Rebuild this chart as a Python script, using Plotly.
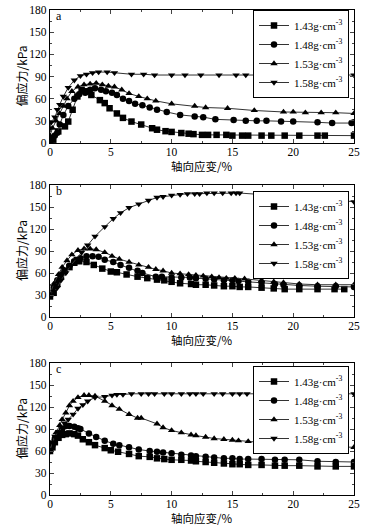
import plotly.graph_objects as go

labels = ["1.43g·cm<sup>-3</sup>", "1.48g·cm<sup>-3</sup>", "1.53g·cm<sup>-3</sup>", "1.58g·cm<sup>-3</sup>"]
symbols = ["square", "circle", "triangle-up", "triangle-down"]
x_title = "轴向应变/%"
y_title = "偏应力/kPa"
x_ticks = [0, 5, 10, 15, 20, 25]
y_ticks = [0, 30, 60, 90, 120, 150, 180]

# Panel a
a143_x = [0, 0.27, 0.68, 1.23, 1.5, 1.86, 2.25, 2.6, 2.96, 3.4, 4.1, 4.5, 4.9, 5.5, 6.0, 6.7, 7.5, 8.4, 8.8, 9.5, 10, 10.8, 11.4, 11.8, 12.5, 13, 13.7, 14.5, 15, 15.8, 16.3, 17.4, 18.2, 19.3, 20.5, 22, 22.6, 25]
a143_y = [0, 4.5, 15.7, 22.5, 29, 45, 63, 72, 70, 65, 58, 54, 47, 40, 34, 29, 25, 20, 18, 16, 15, 13.5, 12.6, 12, 11, 11, 11, 11, 10, 10, 10, 10, 10, 10, 10, 10, 10, 10]
a148_x = [0, 0.2, 0.4, 0.6, 0.8, 1.1, 1.5, 2.0, 2.4, 2.9, 3.3, 3.7, 4.2, 4.6, 5.1, 5.5, 6.0, 6.5, 7.0, 7.6, 8.2, 8.8, 9.6, 10.7, 11.9, 12.6, 13.6, 15.1, 16.1, 17.0, 17.8, 19.0, 20.0, 22.0, 23.2, 24.8, 25]
a148_y = [2, 6, 10, 14, 25, 38, 50, 60, 66, 68, 72, 74, 72, 70, 68, 65, 60, 57, 53, 51, 48, 45, 42, 38, 36, 35, 32, 31, 30, 30, 30, 29, 29, 28, 27, 27, 28]
a153_x = [0, 0.2, 0.5, 0.8, 1.1, 1.4, 1.8, 2.3, 2.8, 3.3, 3.8, 4.3, 4.8, 5.3, 5.9, 6.5, 7.3, 8.0, 8.7, 10.0, 11.9, 12.8, 14.6, 16.8, 19.2, 20.0, 21.0, 22.3, 23.5, 25]
a153_y = [10, 20, 30, 40, 50, 60, 70, 76, 79, 80, 81, 79, 77, 76, 72, 67, 63, 60, 57, 53, 50, 48, 47, 44, 42, 42, 41, 41, 41, 40]
a158_x = [0, 0.1, 0.4, 0.6, 0.8, 1.1, 1.5, 2.0, 2.5, 3.0, 3.5, 4.0, 4.7, 5.3, 6.7, 7.7, 8.6, 10.0, 11.1, 12.4, 13.9, 15.3, 16.1, 17.0, 18.0, 19.2, 20.7, 21.8, 22.5, 25]
a158_y = [20, 28, 35, 45, 52, 63, 75, 85, 91, 93, 95, 96, 96, 95, 93, 93, 92, 92, 92, 92, 92, 92, 92, 92, 92, 92, 92, 92, 92, 92]

# Panel b
b143_x = [0, 0.3, 0.6, 0.9, 1.2, 1.6, 2.0, 2.4, 3.0, 3.6, 4.3, 5.0, 5.5, 6.3, 7.2, 8.0, 8.8, 9.4, 10.0, 10.7, 11.6, 12.0, 12.8, 13.5, 14.3, 15.0, 15.6, 16.3, 17.4, 18.4, 19.3, 20.5, 22.0, 23.4, 24.2]
b143_y = [28, 33, 45, 55, 63, 68, 74, 76, 75, 71, 66, 62, 61, 58, 55, 53, 51, 50, 48, 46, 45, 44, 44, 43, 42, 42, 41, 41, 40, 39, 38, 38, 38, 38, 38]
b148_x = [0, 0.3, 0.6, 0.9, 1.2, 1.6, 2.0, 2.5, 3.0, 3.5, 4.0, 4.5, 5.2, 5.8, 6.5, 7.2, 7.6, 8.7, 9.2, 10.0, 10.8, 11.5, 12.0, 12.8, 13.5, 14.3, 15.0, 15.5, 16.3, 17.4, 18.5, 19.2, 20.5, 22.0, 23.5, 25]
b148_y = [30, 40, 50, 58, 63, 70, 76, 80, 83, 83, 82, 78, 75, 71, 67, 63, 60, 55, 55, 54, 54, 54, 53, 52, 51, 50, 50, 49, 48, 47, 45, 44, 43, 42, 42, 41]
b153_x = [0, 0.3, 0.7, 1.0, 1.4, 1.8, 2.3, 2.8, 3.3, 3.8, 4.5, 5.1, 5.7, 6.5, 7.3, 8.1, 8.7, 9.3, 10.0, 10.7, 11.4, 12.0, 12.6, 13.3, 13.9, 14.5, 15.2, 16.0, 17.4, 18.4, 19.2, 20.5, 22.0, 23.5, 25]
b153_y = [30, 45, 58, 68, 77, 85, 91, 93, 93, 92, 88, 83, 79, 75, 71, 68, 65, 63, 60, 59, 58, 57, 56, 55, 54, 53, 53, 52, 50, 48, 47, 45, 44, 44, 44]
b158_x = [0, 0.3, 0.6, 0.9, 1.3, 1.7, 2.2, 2.6, 3.1, 3.7, 4.5, 5.2, 5.8, 6.5, 7.3, 8.1, 8.8, 9.3, 10.0, 10.7, 11.3, 11.9, 12.3, 12.9, 13.5, 14.2, 14.9, 15.3, 15.6, 17.4, 20.0, 22.0, 25]
b158_y = [30, 35, 40, 50, 60, 70, 80, 88, 98, 110, 123, 134, 142, 149, 154, 159, 163, 164, 166, 167, 168, 168, 168, 169, 169, 169, 169, 169, 169, 167, 165, 163, 157]

# Panel c
c143_x = [0, 0.2, 0.4, 0.7, 1.0, 1.3, 1.6, 2.0, 2.3, 2.7, 3.2, 3.7, 4.5, 5.0, 5.6, 6.5, 7.3, 8.2, 8.8, 9.4, 10.0, 10.8, 11.6, 12.0, 12.8, 13.5, 14.3, 15.0, 15.6, 16.3, 17.4, 18.5, 19.3, 20.5, 22.0, 23.5, 25]
c143_y = [60, 65, 72, 78, 82, 83, 84, 83, 81, 76, 72, 68, 64, 61, 59, 56, 53, 52, 50, 49, 48, 48, 47, 46, 45, 44, 43, 42, 42, 41, 41, 40, 40, 40, 39, 39, 39]
c148_x = [0, 0.2, 0.4, 0.7, 1.0, 1.3, 1.6, 2.0, 2.3, 2.5, 3.2, 3.8, 4.5, 5.2, 5.7, 6.5, 7.3, 8.2, 8.8, 9.3, 10.0, 10.8, 11.6, 12.0, 12.8, 13.5, 14.3, 15.0, 15.6, 16.3, 17.4, 18.5, 19.3, 20.5, 22.0, 23.5, 25]
c148_y = [60, 68, 77, 85, 90, 94, 94, 93, 91, 90, 84, 79, 74, 70, 68, 65, 62, 60, 59, 58, 57, 55, 54, 53, 52, 51, 50, 50, 49, 49, 49, 48, 48, 48, 46, 45, 45]
c153_x = [0, 0.2, 0.5, 0.8, 1.0, 1.3, 1.6, 1.9, 2.3, 2.8, 3.2, 3.7, 4.5, 5.1, 5.7, 6.5, 7.2, 7.5, 8.8, 9.3, 10.0, 10.8, 11.6, 12.0, 12.8, 13.5, 14.3, 15.0, 15.5, 16.3, 17.4, 18.5, 19.2, 20.5, 22.0, 23.0, 25]
c153_y = [62, 72, 85, 95, 103, 112, 122, 128, 133, 136, 136, 135, 128, 122, 117, 110, 105, 105, 97, 92, 88, 85, 82, 81, 79, 77, 76, 75, 74, 73, 71, 70, 69, 68, 67, 66, 65]
c158_x = [0, 0.2, 0.4, 0.7, 1.0, 1.2, 1.5, 1.9, 2.3, 2.7, 3.1, 3.7, 4.5, 5.1, 5.5, 6.0, 6.7, 7.5, 8.1, 8.6, 9.4, 10.0, 10.8, 11.5, 12.0, 12.6, 13.5, 14.2, 15.0, 15.6, 16.2, 17.4, 25]
c158_y = [62, 72, 80, 86, 92, 98, 103, 110, 118, 123, 128, 133, 134, 136, 137, 137, 138, 138, 138, 138, 138, 138, 138, 138, 138, 138, 138, 138, 138, 138, 138, 138, 138]

panels = [
    ("a", [(a143_x, a143_y), (a148_x, a148_y), (a153_x, a153_y), (a158_x, a158_y)]),
    ("b", [(b143_x, b143_y), (b148_x, b148_y), (b153_x, b153_y), (b158_x, b158_y)]),
    ("c", [(c143_x, c143_y), (c148_x, c148_y), (c153_x, c153_y), (c158_x, c158_y)]),
]

W, H = 373, 527
x0, x1 = 50 / W, 354 / W
ydoms = [(1 - 143 / H, 1 - 10 / H), (1 - 317 / H, 1 - 185 / H), (1 - 495 / H, 1 - 363 / H)]
leg_top = [10, 191, 366]

serif = "Liberation Serif, Times New Roman, serif"
cjk = "Noto Sans CJK SC"

fig = go.Figure()
layout = dict(width=W, height=H, margin=dict(l=0, r=0, t=0, b=0, autoexpand=False),
              paper_bgcolor="white", plot_bgcolor="white", annotations=[])

for i, (pname, series) in enumerate(panels):
    sfx = "" if i == 0 else str(i + 1)
    leg = "legend" if i == 0 else f"legend{i + 1}"
    for j, (xs, ys) in enumerate(series):
        fig.add_trace(go.Scatter(
            x=xs, y=ys, mode="lines+markers", name=labels[j],
            xaxis="x" + sfx, yaxis="y" + sfx, legend=leg,
            line=dict(color="#333333", width=1),
            marker=dict(symbol=symbols[j], size=6.5, color="black"),
        ))
    ax = dict(range=[0, 25], domain=[x0, x1], anchor="y" + sfx, automargin=False,
              tickvals=x_ticks, ticks="inside", ticklen=4, ticklabelstandoff=-2,
              showline=True, linecolor="black", linewidth=1.3, mirror="ticks",
              showgrid=False, zeroline=False,
              tickfont=dict(family=serif, size=11.5, color="black"),
              minor=dict(ticks="inside", ticklen=2, dtick=2.5))
    ay = dict(range=[0, 180], domain=list(ydoms[i]), anchor="x" + sfx, automargin=False,
              tickvals=y_ticks, ticks="inside", ticklen=4,
              showline=True, linecolor="black", linewidth=1.3, mirror="ticks",
              showgrid=False, zeroline=False,
              tickfont=dict(family=serif, size=11.5, color="black"),
              minor=dict(ticks="inside", ticklen=2, dtick=15))
    layout["xaxis" + sfx] = ax
    layout["yaxis" + sfx] = ay
    layout[leg] = dict(x=349 / W, y=1 - leg_top[i] / H, xanchor="right", yanchor="top",
                       bgcolor="white", bordercolor="black", borderwidth=1,
                       font=dict(family=serif, size=11, color="black"),
                       itemwidth=30, tracegroupgap=0)
    layout["annotations"].append(dict(
        text=pname, x=0.3, y=172, xref="x" + sfx, yref="y" + sfx,
        xanchor="left", yanchor="middle", showarrow=False,
        font=dict(family=serif, size=12, color="black")))
    layout["annotations"].append(dict(
        text=x_title, x=0.5, y=0, xref=("x" + sfx) + " domain", yref=("y" + sfx) + " domain",
        xanchor="center", yanchor="middle", yshift=-23, showarrow=False,
        font=dict(family=cjk, size=11.5, color="black")))
    layout["annotations"].append(dict(
        text=y_title, x=0, y=0.5, xref=("x" + sfx) + " domain", yref=("y" + sfx) + " domain",
        xanchor="center", yanchor="middle", xshift=-29, textangle=-90, showarrow=False,
        font=dict(family=cjk, size=12, color="black")))

fig.update_layout(**layout)
fig.write_html("out.html", config={"displayModeBar": False},
               post_script="document.body.style.margin='0px';document.body.style.padding='0px';")
